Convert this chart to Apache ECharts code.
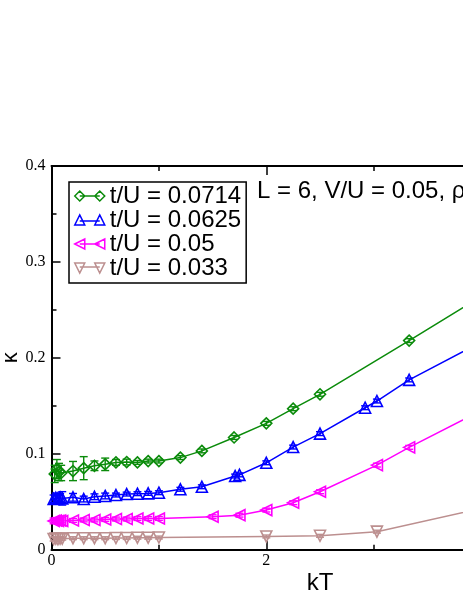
<!DOCTYPE html>
<html><head><meta charset="utf-8">
<script src="https://cdn.jsdelivr.net/npm/echarts@6/dist/echarts.min.js"></script>
<style>html,body{margin:0;padding:0;background:#fff}#c{width:463px;height:599px}</style>
</head><body><div id="c"></div>
<script>
const seriesNames = ['t/U = 0.0714', 't/U = 0.0625', 't/U = 0.05', 't/U = 0.033'];
const seriesColors = ['#0b8b0b', '#0000ff', '#ff00ff', '#bc8f8f'];
const annotation = 'L = 6, V/U = 0.05, ρ = 1';

const greenX = [0.03, 0.05, 0.07, 0.09, 0.2, 0.3, 0.4, 0.5, 0.6, 0.7, 0.8, 0.9, 1.0, 1.2, 1.4, 1.7, 2.0, 2.25, 2.5, 3.33, 4.0];
const greenY = [0.079, 0.084, 0.081, 0.080, 0.082, 0.085, 0.0875, 0.089, 0.091, 0.0914, 0.091, 0.0924, 0.0924, 0.096, 0.103, 0.117, 0.1317, 0.147, 0.162, 0.218, 0.264];
const greenErr = [0.009, 0.010, 0.009, 0.008, 0.010, 0.012, 0.005, 0.0065, 0.003, 0.003, 0.002, 0.002, 0.002, 0.002, 0.002, 0.002, 0.002, 0.002, 0.002, 0.002, 0.002];

const blueX = [0.02, 0.04, 0.06, 0.08, 0.1, 0.2, 0.3, 0.4, 0.5, 0.6, 0.7, 0.8, 0.9, 1.0, 1.2, 1.4, 1.71, 1.75, 2.0, 2.25, 2.5, 2.92, 3.03, 3.33, 4.0];
const blueY = [0.053, 0.054, 0.0535, 0.0545, 0.0535, 0.0546, 0.0528, 0.0552, 0.056, 0.057, 0.058, 0.0584, 0.0587, 0.0594, 0.063, 0.0656, 0.0768, 0.078, 0.0906, 0.107, 0.121, 0.148, 0.155, 0.177, 0.2165];
const blueErr = [0.004, 0.005, 0.004, 0.004, 0.007, 0.004, 0.003, 0.003, 0.003, 0.002, 0.002, 0.002, 0.002, 0.002, 0.002, 0.002, 0.002, 0.002, 0.002, 0.002, 0.002, 0.002, 0.002, 0.002, 0.002];

const magX = [0.02, 0.04, 0.06, 0.08, 0.1, 0.2, 0.3, 0.4, 0.5, 0.6, 0.7, 0.8, 0.9, 1.0, 1.5, 1.75, 2.0, 2.25, 2.5, 3.03, 3.33, 4.0];
const magY = [0.030, 0.0305, 0.030, 0.0305, 0.030, 0.0305, 0.031, 0.031, 0.0315, 0.032, 0.032, 0.0325, 0.0325, 0.0326, 0.0344, 0.036, 0.0413, 0.049, 0.0604, 0.0882, 0.1067, 0.145];
const magErr = [0.003, 0.003, 0.003, 0.003, 0.002, 0.002, 0.002, 0.002, 0.002, 0.002, 0.002, 0.002, 0.002, 0.002, 0.002, 0.002, 0.002, 0.002, 0.002, 0.002, 0.002, 0.002];

const pinkX = [0.02, 0.04, 0.06, 0.08, 0.1, 0.2, 0.3, 0.4, 0.5, 0.6, 0.7, 0.8, 0.9, 1.0, 2.0, 2.5, 3.03, 4.0];
const pinkY = [0.011, 0.0115, 0.011, 0.0115, 0.0115, 0.012, 0.012, 0.012, 0.012, 0.0122, 0.0122, 0.0125, 0.0125, 0.0127, 0.0138, 0.0145, 0.0188, 0.043];
const pinkErr = [0.002, 0.002, 0.002, 0.002, 0.0015, 0.0015, 0.0015, 0.0015, 0.0015, 0.0015, 0.0015, 0.0015, 0.0015, 0.0015, 0.0015, 0.0015, 0.0015, 0.0015];

const symbols = [
  'diamond',
  'triangle',
  'path://M0,5L10,0L10,10Z',
  'path://M0,0L10,0L5,10Z'
];
const legendIcons = [
  'path://M0,5L5,0L10,5L5,10ZM5,5L25,5M20,5L25,0L30,5L25,10Z',
  'path://M0,10L5,0L10,10ZM5,6L25,6M20,10L25,0L30,10Z',
  'path://M0,5L10,0L10,10ZM5,5L25,5M20,5L30,0L30,10Z',
  'path://M0,0L10,0L5,10ZM5,4L25,4M20,0L30,0L25,10Z'
];

const allX = [greenX, blueX, magX, pinkX];
const allY = [greenY, blueY, magY, pinkY];
const allErr = [greenErr, blueErr, magErr, pinkErr];

const series = [];
for (let i = 0; i < 4; i++) {
  const color = seriesColors[i];
  const errData = allX[i].map((x, j) => [x, allY[i][j] - allErr[i][j], allY[i][j] + allErr[i][j]]);
  series.push({
    type: 'custom',
    name: seriesNames[i] + ' err',
    data: errData,
    encode: { x: 0, y: [1, 2] },
    silent: true,
    z: 3,
    renderItem: function (params, api) {
      const x = api.value(0);
      const lo = api.coord([x, api.value(1)]);
      const hi = api.coord([x, api.value(2)]);
      const w = 4;
      const st = { stroke: color, lineWidth: 1.4 };
      return {
        type: 'group',
        children: [
          { type: 'line', shape: { x1: lo[0], y1: lo[1], x2: hi[0], y2: hi[1] }, style: st },
          { type: 'line', shape: { x1: lo[0] - w, y1: lo[1], x2: lo[0] + w, y2: lo[1] }, style: st },
          { type: 'line', shape: { x1: hi[0] - w, y1: hi[1], x2: hi[0] + w, y2: hi[1] }, style: st }
        ]
      };
    }
  });
  series.push({
    type: 'line',
    name: seriesNames[i],
    data: allX[i].map((x, j) => [x, allY[i][j]]),
    symbol: symbols[i],
    symbolSize: 11,
    showAllSymbol: true,
    z: 4,
    lineStyle: { color: color, width: 1.5 },
    itemStyle: { color: 'transparent', borderColor: color, borderWidth: 1.6 },
    emphasis: { disabled: true },
    animation: false
  });
}

const chart = echarts.init(document.getElementById('c'), null, { renderer: 'canvas' });
chart.setOption({
  animation: false,
  backgroundColor: '#fff',
  grid: { left: 51.5, top: 166, width: 537, height: 383.7, containLabel: false, outerBoundsMode: 'none' },
  xAxis: [{
    type: 'value', min: 0, max: 5, interval: 2, position: 'bottom',
    name: 'kT', nameLocation: 'middle', nameGap: 22, nameMoveOverlap: false,
    nameTextStyle: { fontFamily: 'Liberation Sans', fontSize: 24, color: '#000' },
    axisLine: { lineStyle: { color: '#000', width: 2 } },
    axisTick: { inside: true, length: 9, lineStyle: { color: '#000', width: 1.5 } },
    minorTick: { show: true, splitNumber: 2, length: 5, lineStyle: { color: '#000', width: 1.5 } },
    axisLabel: { fontFamily: 'Liberation Serif', fontSize: 16, color: '#000', margin: 3 },
    splitLine: { show: false }
  }, {
    type: 'value', min: 0, max: 5, interval: 2, position: 'top',
    axisLine: { lineStyle: { color: '#000', width: 2 } },
    axisTick: { inside: true, length: 9, lineStyle: { color: '#000', width: 1.5 } },
    minorTick: { show: true, splitNumber: 2, length: 5, lineStyle: { color: '#000', width: 1.5 } },
    axisLabel: { show: false },
    splitLine: { show: false }
  }],
  yAxis: [{
    type: 'value', min: 0, max: 0.4, interval: 0.1,
    name: 'κ', nameLocation: 'middle', nameGap: 30, nameRotate: 90, nameMoveOverlap: false,
    nameTextStyle: { fontFamily: 'Liberation Sans', fontSize: 22, color: '#000' },
    axisLine: { lineStyle: { color: '#000', width: 2 } },
    axisTick: { inside: true, length: 9, lineStyle: { color: '#000', width: 1.5 } },
    minorTick: { show: true, splitNumber: 2, length: 5, lineStyle: { color: '#000', width: 1.5 } },
    axisLabel: { fontFamily: 'Liberation Serif', fontSize: 16, color: '#000', margin: 6 },
    splitLine: { show: false }
  }],
  legend: {
    orient: 'vertical', left: 69, top: 182,
    padding: [2, 5, 3, 5], itemGap: 0,
    itemWidth: 30, itemHeight: 10,
    backgroundColor: '#fff', borderColor: '#000', borderWidth: 1.5, borderRadius: 0,
    selectedMode: false,
    textStyle: { fontFamily: 'Liberation Sans', fontSize: 24, color: '#000', lineHeight: 23 },
    data: seriesNames.map((n, i) => ({
      name: n, icon: legendIcons[i],
      itemStyle: { color: 'transparent', borderColor: seriesColors[i], borderWidth: 1.5 }
    }))
  },
  graphic: [{
    type: 'text', left: 257, top: 179,
    style: { text: annotation, fontFamily: 'Liberation Sans', fontSize: 24, fill: '#000' }
  }],
  series: series
});
</script>
</body></html>
